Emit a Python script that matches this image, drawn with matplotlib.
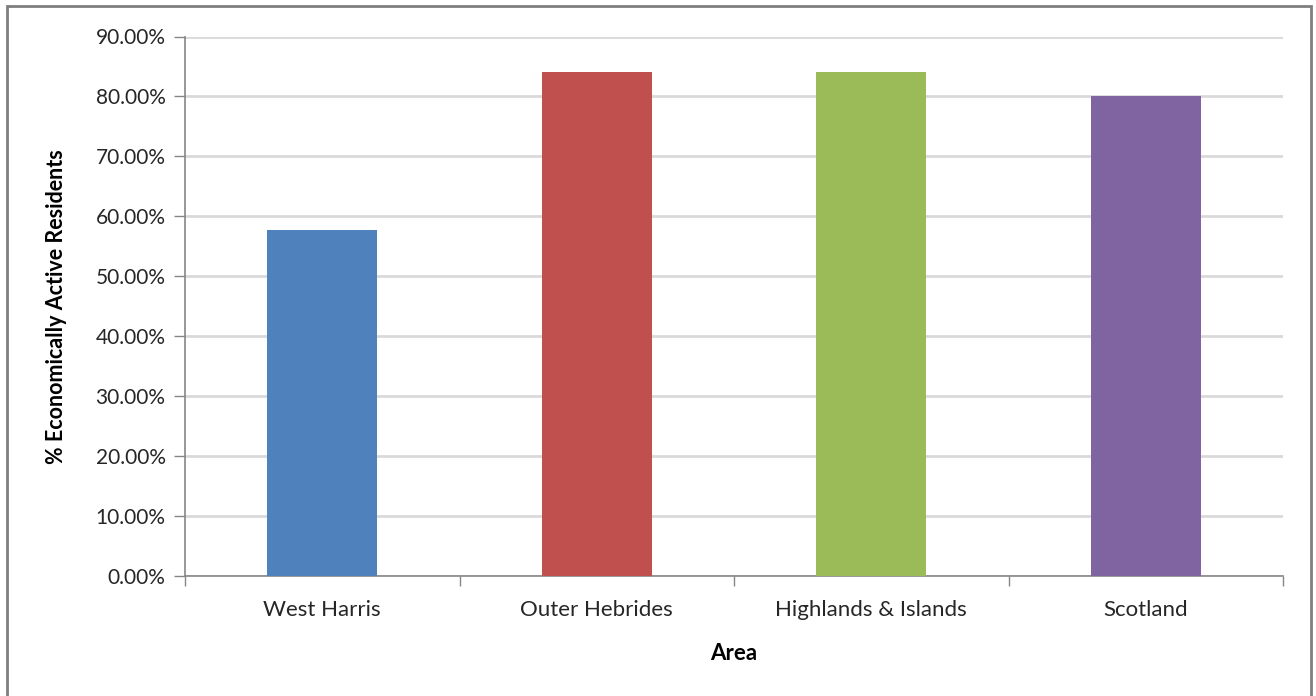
import numpy as np
import matplotlib.pyplot as plt
from matplotlib.patches import Rectangle
from matplotlib.ticker import FuncFormatter, MultipleLocator

# données
zones = ["West Harris", "Outer Hebrides", "Highlands & Islands", "Scotland"]
actifs = [57.8, 84.0, 84.0, 80.0]  # % de résidents économiquement actifs
couleurs = ["#4F81BD", "#C0504D", "#9BBB59", "#8064A2"]

plt.rcParams['font.family'] = ['Lato', 'DejaVu Sans']

fig = plt.figure(figsize=(13.16, 6.96), dpi=100)
ax = fig.add_axes([185/1316, 1 - 576/696, (1283-185)/1316, (576-36.5)/696])

x = np.arange(len(zones))
ax.bar(x, actifs, width=0.4, color=couleurs, zorder=3)

ax.set_xlim(-0.5, len(zones) - 0.5)
ax.set_ylim(0, 90)
ax.yaxis.set_major_locator(MultipleLocator(10))
ax.yaxis.set_major_formatter(FuncFormatter(lambda v, p: f"{v:.2f}%"))
ax.grid(axis='y', color='#D9D9D9', linewidth=2, zorder=0)

# ticks de catégories entre les barres, comme dans Excel
ax.set_xticks(np.arange(-0.5, len(zones)), minor=False)
ax.set_xticklabels([])
ax.set_xticks(x, minor=True)
ax.set_xticklabels(zones, minor=True)
ax.tick_params(axis='x', which='major', length=7, color='#868686', width=1)
ax.tick_params(axis='x', which='minor', length=0, pad=17, labelsize=16, labelcolor='#262626')
ax.tick_params(axis='y', length=8, color='#868686', width=1, pad=6, labelsize=15, labelcolor='#262626')

for s in ['top', 'right']:
    ax.spines[s].set_visible(False)
for s in ['left', 'bottom']:
    ax.spines[s].set_color('#868686')
    ax.spines[s].set_linewidth(1.2)

ax.set_xlabel("Area", fontsize=16, fontweight='bold')
ax.set_ylabel("% Economically Active Residents", fontsize=15.5, fontweight='bold')
ax.xaxis.set_label_coords(0.5, (576 - 653) / 539.5, transform=ax.transAxes)
ax.xaxis.label.set_va('center')
ax.yaxis.set_label_coords((56 - 185) / 1098, 0.5, transform=ax.transAxes)
ax.yaxis.label.set_va('center')

# cadre gris autour du graphique
fig.patches.append(Rectangle((7/1316, -0.05), (1311-7)/1316, 1.05 - 6/696,
                             transform=fig.transFigure, fill=False,
                             edgecolor='#7F7F7F', linewidth=2))

fig.savefig("out.png", dpi=100)
